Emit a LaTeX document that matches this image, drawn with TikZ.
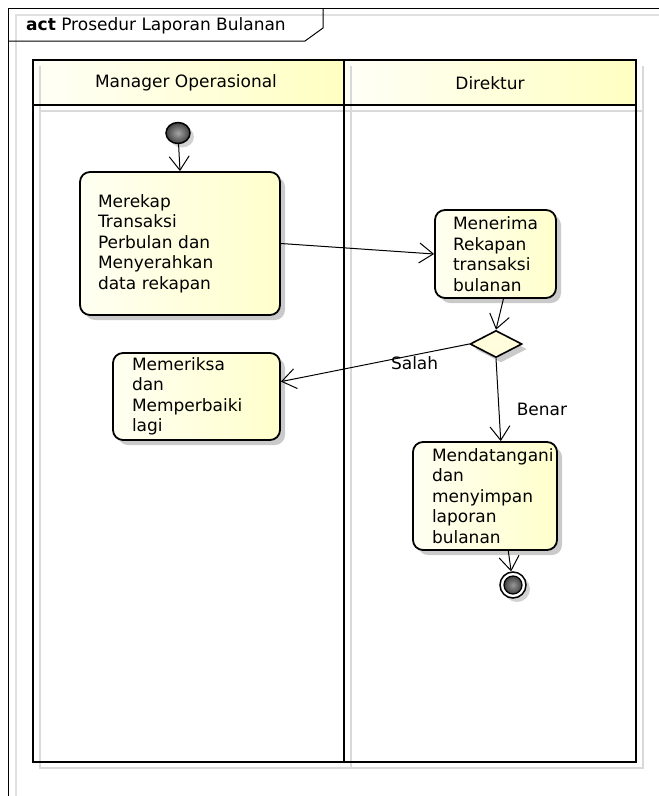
\documentclass[tikz,border=0pt]{standalone}
\usepackage{fontspec}
\setmainfont{DejaVu Sans}
\usetikzlibrary{shapes.geometric,shadows,arrows.meta}

\begin{document}
\begin{tikzpicture}[x=1pt,y=1pt,yscale=-1,
	every node/.style={font=\fontsize{17}{20.5}\selectfont},
	frame/.style={line width=1pt},
	lane/.style={line width=2pt},
	laneshadow/.style={draw=black!15,line width=2.5pt},
	lanehead/.style={left color=yellow!3,right color=yellow!24},
	aksi/.style={draw,line width=1.8pt,rounded corners=10pt,left color=yellow!5,right color=yellow!20,
		align=left,inner sep=0pt,drop shadow={shadow xshift=5pt,shadow yshift=-5pt,fill=black!35,opacity=0.6}},
	keputusan/.style={diamond,draw,line width=1.6pt,fill=yellow!14,inner sep=0pt,aspect=2,
		minimum width=52pt,minimum height=27pt,drop shadow={shadow xshift=5pt,shadow yshift=-5pt,fill=black!35,opacity=0.6}},
	alur/.style={line width=1pt,-{Straight Barb[length=14pt,width=20pt,line width=1pt]}}]
	\useasboundingbox (0,0) rectangle (659,796);
	
	%Frame
	\draw [black!12,line width=1.5pt] (16,796) -- (16,15) -- (659,15) ;
	\draw [frame] (8,796) -- (8,8) -- (659,8) ;
	\draw [frame] (8,41) -- (305,41) -- (323,28) -- (323,8) ;
	% Text Node
	\node [anchor=west,inner sep=0pt] (judul) at (26,26) {\textbf{act} Prosedur Laporan Bulanan};
	
	%Swimlane headers
	\shade [lanehead] (33,60) rectangle (344,105) ;
	\shade [lanehead] (344,60) rectangle (636,105) ;
	%Swimlane shadows
	\draw [laneshadow] (40,66) -- (40,768) -- (643,768) -- (643,66) ;
	\draw [laneshadow] (351,66) -- (351,768) ;
	\draw [laneshadow] (40,111) -- (643,111) ;
	%Swimlanes
	\draw [lane] (33,60) rectangle (636,762) ;
	\draw [lane] (344,60) -- (344,762) ;
	\draw [lane] (33,105) -- (636,105) ;
	% Text Node
	\node (manager) at (186,83) {Manager Operasional};
	% Text Node
	\node (direktur) at (490,83) {Direktur};
	
	%Initial node
	\node [ellipse,draw,line width=1.5pt,inner color=black!35,outer color=black!75,minimum width=24pt,minimum height=21pt,inner sep=0pt,
		drop shadow={shadow xshift=4pt,shadow yshift=-4pt,fill=black!35,opacity=0.5}] (mulai) at (178,133) {};
	%Actions
	\node [aksi,minimum width=200pt,minimum height=143pt,text width=164pt] (merekap) at (180,243.5)
		{Merekap\\Transaksi\\Perbulan dan\\Menyerahkan\\data rekapan};
	\node [aksi,minimum width=121pt,minimum height=88pt,text width=85pt] (menerima) at (495.5,254)
		{Menerima\\Rekapan\\transaksi\\bulanan};
	\node [keputusan] (cek) at (496,344) {};
	\node [aksi,minimum width=167pt,minimum height=87pt,text width=129pt] (memeriksa) at (196.5,396.5)
		{Memeriksa\\dan\\Memperbaiki\\lagi};
	\node [aksi,minimum width=144pt,minimum height=108pt,text width=106pt] (mendatangani) at (485,496)
		{Mendatangani\\dan\\menyimpan\\laporan\\bulanan};
	%Final node
	\node [circle,draw,line width=1.5pt,fill=white,minimum size=26pt,inner sep=0pt,
		drop shadow={shadow xshift=4pt,shadow yshift=-4pt,fill=black!35,opacity=0.5}] (selesai) at (513,585) {};
	\node [circle,draw,line width=1.2pt,inner color=black!40,outer color=black!75,minimum size=18pt,inner sep=0pt] (selesaiisi) at (selesai) {};
	
	%Straight Lines
	\draw [alur] (mulai) -- (merekap.north) ;
	\draw [alur] (merekap.east) -- (menerima.west) ;
	\draw [alur] (menerima.-80) -- (cek.north) ;
	\draw [alur] (cek.west) -- node [pos=0.29,below,inner sep=1pt] (salah) {Salah} (memeriksa.10) ;
	\draw [alur] (cek.south) -- node [pos=0.62,right=14pt] (benar) {Benar} (mendatangani.74) ;
	\draw [alur] (mendatangani.-67) -- (selesai) ;
	
\end{tikzpicture}
\end{document}
